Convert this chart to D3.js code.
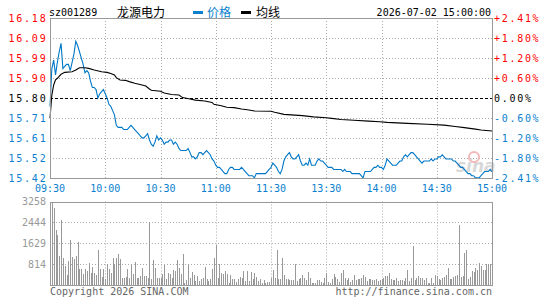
<!DOCTYPE html>
<html>
<head>
<meta charset="utf-8">
<script src="https://cdn.jsdelivr.net/npm/d3@7/dist/d3.min.js"></script>
<style>
  body { margin: 0; background: #fff; }
  text { font-family: "DejaVu Sans Mono", monospace; }
</style>
</head>
<body>
<div id="chart"></div>
<script>
// 基本信息
const stockCode = 'sz001289';
const stockName = '龙源电力';
const dateTime = '2026-07-02 15:00:00';
const preClose = 15.80;
const maxPct = 2.41;
const volMax = 3258;

// 坐标刻度
const priceTicks = ['16.18', '16.09', '15.99', '15.90', '15.80', '15.71', '15.61', '15.52', '15.42'];
const pctTicks = ['+2.41%', '+1.80%', '+1.20%', '+0.60%', '0.00%', '-0.60%', '-1.20%', '-1.80%', '-2.41%'];
const timeTicks = ['09:30', '10:00', '10:30', '11:00', '11:30', '13:30', '14:00', '14:30', '15:00'];
const volTicks = [3258, 2444, 1629, 814];

// 分时价格 (每分钟一个点, 241 个)
const price = [
  15.76, 15.94, 15.98, 15.91, 15.97, 16.02, 16.06, 15.94, 15.95, 15.96,
  15.96, 15.93, 15.97, 16.01, 16.07, 16.05, 16.02, 15.99, 15.96, 15.92,
  15.93, 15.92, 15.88, 15.85, 15.85, 15.84, 15.80, 15.82, 15.83, 15.84,
  15.82, 15.80, 15.77, 15.76, 15.74, 15.72, 15.67, 15.66, 15.66, 15.66,
  15.65, 15.65, 15.65, 15.66, 15.67, 15.66, 15.65, 15.64, 15.63, 15.62,
  15.61, 15.61, 15.62, 15.63, 15.60, 15.58, 15.57, 15.59, 15.62, 15.60,
  15.61, 15.60, 15.58, 15.59, 15.59, 15.60, 15.60, 15.58, 15.59, 15.58,
  15.56, 15.55, 15.55, 15.55, 15.55, 15.56, 15.54, 15.52, 15.52, 15.51,
  15.52, 15.54, 15.54, 15.53, 15.54, 15.55, 15.54, 15.53, 15.51, 15.50,
  15.48, 15.47, 15.47, 15.46, 15.45, 15.44, 15.44, 15.46, 15.47, 15.47,
  15.46, 15.46, 15.46, 15.46, 15.47, 15.46, 15.45, 15.44, 15.43, 15.43,
  15.43, 15.42, 15.44, 15.44, 15.44, 15.44, 15.44, 15.44, 15.45, 15.46,
  15.47, 15.49, 15.48, 15.47, 15.45, 15.44, 15.46, 15.50, 15.52, 15.53,
  15.54, 15.52, 15.51, 15.51, 15.52, 15.53, 15.50, 15.48, 15.48, 15.49,
  15.48, 15.51, 15.48, 15.48, 15.48, 15.50, 15.51, 15.50, 15.50, 15.49,
  15.48, 15.47, 15.47, 15.47, 15.46, 15.46, 15.46, 15.46, 15.46, 15.45,
  15.46, 15.45, 15.45, 15.45, 15.44, 15.44, 15.44, 15.44, 15.44, 15.43,
  15.42, 15.45, 15.45, 15.45, 15.45, 15.46, 15.47, 15.47, 15.48, 15.47,
  15.47, 15.46, 15.48, 15.51, 15.50, 15.49, 15.48, 15.48, 15.48, 15.49,
  15.50, 15.50, 15.52, 15.53, 15.52, 15.53, 15.54, 15.54, 15.53, 15.52,
  15.51, 15.50, 15.49, 15.50, 15.50, 15.50, 15.50, 15.51, 15.50, 15.51,
  15.51, 15.52, 15.52, 15.53, 15.52, 15.51, 15.51, 15.51, 15.51, 15.50,
  15.50, 15.49, 15.48, 15.47, 15.47, 15.46, 15.45, 15.44, 15.44, 15.43,
  15.43, 15.42, 15.42, 15.42, 15.43, 15.44, 15.45, 15.45, 15.45, 15.46,
  15.45
];

// 均价线 (分钟序号, 均价)
const avgMinutes = [0, 1, 2, 3, 4, 6, 8, 12, 14, 16, 19, 21, 24, 28, 31, 33, 35, 36, 38, 41,
  43, 46, 50, 52, 54, 55, 60, 62, 66, 70, 72, 76, 79, 84, 88, 89, 93, 96, 100, 104,
  108, 111, 120, 122, 127, 137, 143, 150, 153, 158, 165, 173, 179, 183, 194, 205, 214, 220, 225, 231,
  234, 240];
const avgValues = [15.703, 15.814, 15.862, 15.886, 15.894, 15.913, 15.922, 15.925, 15.933, 15.944,
  15.944, 15.941, 15.933, 15.925, 15.922, 15.917, 15.910, 15.897, 15.886, 15.884,
  15.878, 15.870, 15.862, 15.857, 15.843, 15.837, 15.832, 15.824, 15.817, 15.814,
  15.802, 15.795, 15.790, 15.786, 15.779, 15.770, 15.763, 15.756, 15.754, 15.748,
  15.743, 15.738, 15.737, 15.732, 15.722, 15.716, 15.710, 15.706, 15.703, 15.698,
  15.694, 15.690, 15.687, 15.684, 15.679, 15.675, 15.671, 15.664, 15.659, 15.652,
  15.648, 15.643];

// 成交量 (手)
const volume = [
  478, 3258, 3000, 2146, 1940, 1125, 2547, 1060, 737, 388,
  931, 1746, 1086, 1021, 1125, 1681, 608, 634, 440, 634,
  543, 866, 478, 711, 478, 388, 1384, 608, 323, 634,
  246, 828, 608, 478, 1060, 828, 1060, 1215, 1021, 284,
  284, 323, 608, 284, 802, 440, 905, 259, 259, 362,
  647, 349, 362, 284, 2457, 220, 983, 672, 284, 284,
  259, 440, 763, 220, 478, 414, 284, 569, 543, 983,
  672, 414, 1215, 91, 181, 802, 284, 517, 375, 155,
  349, 155, 220, 259, 711, 220, 155, 220, 608, 1060,
  1577, 259, 802, 478, 414, 543, 414, 91, 388, 220,
  220, 129, 220, 310, 284, 543, 155, 543, 155, 517,
  220, 478, 310, 155, 220, 91, 181, 91, 129, 129,
  259, 569, 259, 1384, 220, 220, 1034, 388, 246, 220,
  207, 207, 207, 828, 155, 220, 259, 388, 284, 181,
  517, 284, 91, 91, 91, 207, 181, 129, 91, 259,
  478, 129, 91, 246, 414, 310, 220, 103, 478, 569,
  284, 181, 259, 129, 181, 388, 181, 220, 220, 284,
  388, 310, 155, 220, 220, 181, 181, 220, 155, 181,
  220, 284, 362, 362, 478, 246, 181, 181, 284, 155,
  207, 181, 155, 284, 569, 155, 284, 1513, 207, 284,
  349, 284, 259, 207, 259, 91, 91, 284, 91, 388,
  349, 220, 181, 284, 323, 388, 672, 220, 220, 323,
  349, 388, 2353, 323, 349, 1254, 1371, 220, 323, 543,
  517, 672, 595, 866, 737, 595, 595, 802, 802, 802,
  802
];

const width = 545, height = 300;
const left = 50, right = 492;
const pTop = 18, pBot = 178;
const vTop = 201.5, vBot = 285;

const red = '#ff0000', blue = '#0a7fcf', gray = '#999';

const svg = d3.select('#chart').append('svg')
  .attr('width', width).attr('height', height);

const x = d3.scaleLinear().domain([0, 240]).range([left, right]);
const yP = d3.scaleLinear()
  .domain([preClose * (1 - maxPct / 100), preClose * (1 + maxPct / 100)])
  .range([pBot, pTop]);
const yV = d3.scaleLinear().domain([0, volMax]).range([vBot, vTop]);
const tickY = d3.scalePoint().domain(d3.range(priceTicks.length)).range([pTop, pBot]);
const snap = v => Math.round(v) + 0.5;

// 网格
const grid = svg.append('g').attr('fill', 'none').attr('stroke-width', 1);
d3.range(1, priceTicks.length - 1).forEach(k => {
  const mid = k === 4;
  grid.append('line')
    .attr('x1', left).attr('x2', right)
    .attr('y1', snap(tickY(k))).attr('y2', snap(tickY(k)))
    .attr('stroke', mid ? '#000' : '#aaa')
    .attr('stroke-dasharray', mid ? '3,2' : '1,2');
});
[30, 60, 90, 120, 150, 180, 210].forEach(m => {
  grid.append('line')
    .attr('x1', snap(x(m))).attr('x2', snap(x(m)))
    .attr('y1', pTop).attr('y2', pBot)
    .attr('stroke', '#aaa').attr('stroke-dasharray', '1,2');
  grid.append('line')
    .attr('x1', snap(x(m))).attr('x2', snap(x(m)))
    .attr('y1', vTop).attr('y2', vBot)
    .attr('stroke', '#aaa').attr('stroke-dasharray', '1,2');
});
volTicks.slice(1).forEach(v => {
  grid.append('line')
    .attr('x1', left).attr('x2', right)
    .attr('y1', snap(yV(v))).attr('y2', snap(yV(v)))
    .attr('stroke', '#aaa').attr('stroke-dasharray', '1,2');
});

// 成交量柱
svg.append('g')
  .selectAll('rect')
  .data(volume)
  .enter()
  .append('rect')
  .attr('x', (d, i) => Math.round(x(i)))
  .attr('y', d => yV(d))
  .attr('width', 1)
  .attr('height', d => vBot - yV(d))
  .attr('fill', gray)
  .attr('shape-rendering', 'crispEdges');

// 水印
svg.append('text')
  .attr('x', 456).attr('y', 172)
  .style('font-family', 'Verdana, "DejaVu Sans", sans-serif')
  .style('font-style', 'italic').style('font-weight', 'bold')
  .style('font-size', '17px')
  .attr('fill', '#cfcfcf').attr('opacity', 0.8)
  .text('sina');
svg.append('circle')
  .attr('cx', 474).attr('cy', 157).attr('r', 5)
  .attr('fill', 'none').attr('stroke', '#f3b8b8').attr('stroke-width', 2);

// 价格线与均线
svg.append('path')
  .datum(price)
  .attr('fill', 'none')
  .attr('stroke', '#0078c8')
  .attr('stroke-width', 1.1)
  .attr('d', d3.line().x((d, i) => x(i)).y(d => yP(d)));

svg.append('path')
  .datum(avgMinutes.map((m, i) => [m, avgValues[i]]))
  .attr('fill', 'none')
  .attr('stroke', '#000')
  .attr('stroke-width', 1.1)
  .attr('d', d3.line().x(d => x(d[0])).y(d => yP(d[1])));

// 边框
[[pTop, pBot], [vTop, vBot]].forEach(([t, b]) => {
  svg.append('rect')
    .attr('x', left + 0.5).attr('y', Math.round(t) + 0.5)
    .attr('width', right - left).attr('height', Math.round(b) - Math.round(t))
    .attr('fill', 'none').attr('stroke', gray);
});

// 左右价格刻度
const labelColor = k => k < 4 ? red : (k === 4 ? '#000' : blue);
svg.append('g')
  .selectAll('text')
  .data(priceTicks)
  .enter()
  .append('text')
  .attr('x', 47.5)
  .attr('y', (d, k) => tickY(k))
  .attr('dy', '0.35em')
  .attr('text-anchor', 'end')
  .style('font-size', '10px')
  .style('letter-spacing', '1.8px')
  .attr('fill', (d, k) => labelColor(k))
  .text(d => d);

svg.append('g')
  .selectAll('text')
  .data(pctTicks)
  .enter()
  .append('text')
  .attr('x', 494)
  .attr('y', (d, k) => tickY(k))
  .attr('dy', '0.35em')
  .style('font-size', '10px')
  .style('letter-spacing', '1.7px')
  .attr('fill', (d, k) => labelColor(k))
  .text(d => d);

// 时间刻度
svg.append('g')
  .selectAll('text')
  .data(timeTicks)
  .enter()
  .append('text')
  .attr('x', (d, k) => x(k * 30))
  .attr('y', 188)
  .attr('dy', '0.35em')
  .attr('text-anchor', 'middle')
  .style('font-size', '10px')
  .attr('fill', blue)
  .text(d => d);

// 成交量刻度
svg.append('g')
  .selectAll('text')
  .data(volTicks)
  .enter()
  .append('text')
  .attr('x', 46)
  .attr('y', d => yV(d))
  .attr('dy', '0.35em')
  .attr('text-anchor', 'end')
  .style('font-size', '10px')
  .attr('fill', gray)
  .text(d => d);

// 标题
const title = svg.append('g');
title.append('text').attr('x', 49).attr('y', 16).style('font-size', '10px').text(stockCode);
title.append('text').attr('x', 117).attr('y', 17)
  .style('font-family', '"Noto Sans CJK SC", sans-serif').style('font-size', '12px')
  .text(stockName);
title.append('rect').attr('x', 193).attr('y', 11).attr('width', 10).attr('height', 3).attr('fill', blue);
title.append('text').attr('x', 207).attr('y', 17)
  .style('font-family', '"Noto Sans CJK SC", sans-serif').style('font-size', '12px')
  .attr('fill', blue).text('价格');
title.append('rect').attr('x', 241).attr('y', 11).attr('width', 10).attr('height', 3).attr('fill', '#000');
title.append('text').attr('x', 256).attr('y', 17)
  .style('font-family', '"Noto Sans CJK SC", sans-serif').style('font-size', '12px')
  .text('均线');
title.append('text').attr('x', 491).attr('y', 16).attr('text-anchor', 'end')
  .style('font-size', '10px').text(dateTime);

// 版权
svg.append('text').attr('x', 50).attr('y', 295)
  .style('font-size', '10px').attr('fill', '#666')
  .text('Copyright 2026 SINA.COM');
svg.append('text').attr('x', 492).attr('y', 295).attr('text-anchor', 'end')
  .style('font-size', '10px').attr('fill', '#666')
  .text('http://finance.sina.com.cn');
</script>
</body>
</html>
